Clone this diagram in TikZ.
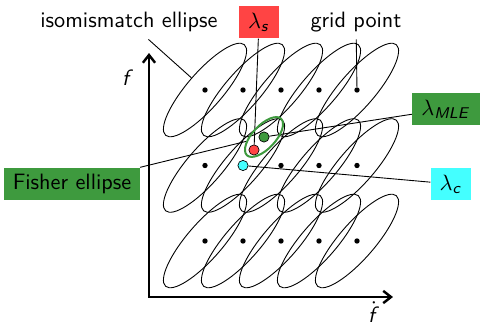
\documentclass[tikz,border=0pt]{standalone}
\usepackage{xcolor}
\usepackage{tikz}
\usetikzlibrary{
  arrows.meta, positioning, shapes.geometric, backgrounds
}
\usepackage{amsmath}
\DeclareMathAlphabet{\mathsfit}{OT1}{cmss}{m}{sl}
\definecolor{lblred}{HTML}{FF4444}
\definecolor{lblgreen}{HTML}{3E9A3E}
\definecolor{lblcyan}{HTML}{44FFFF}

\begin{document}
\begin{tikzpicture}[
  x=0.45pt, y=-0.45pt,
  every node/.style={font=\sffamily},
  isoell/.style={draw, ellipse, rotate=49, minimum width=54pt,
                 minimum height=16pt, inner sep=0pt},
  fishell/.style={draw=lblgreen, line width=0.9pt, ellipse, rotate=47,
                  minimum width=22.5pt, minimum height=10.4pt, inner sep=0pt},
  gdot/.style={circle, fill=black, inner sep=0pt, minimum size=2.4pt},
  pdot/.style={circle, draw=black, line width=0.3pt, inner sep=0pt,
               minimum size=4.6pt},
  lbox/.style={inner xsep=4pt, inner ysep=0pt, minimum height=14.6pt},
  txt/.style={inner sep=0pt, minimum height=15.3pt},
  axis/.style={line width=1.1pt, line join=miter,
               {Straight Barb[length=3.5pt,width=5.5pt]}-{Straight Barb[length=3.5pt,width=5.5pt]}},
]
  \useasboundingbox (0,0) rectangle (483,327);

  % axes
  \coordinate (orig) at (149,297);
  \coordinate (ytip) at (149,53);
  \coordinate (xtip) at (393,297);
  \draw[axis] (ytip) -- (orig) -- (xtip);
  \node (fy) at (128,78) {$\mathsfit{f}$};
  \node (fx) at (374,312) {$\dot{\mathsfit{f}}$};

  % isomismatch ellipses and grid points
  \foreach \i in {0,...,4}
    \foreach \j in {0,1,2}
      \node[isoell] (e\i\j) at ({205+38*\i},{90+75.5*\j}) {};
  \foreach \i in {0,...,4}
    \foreach \j in {0,1,2}{
      \ifnum\i\j=11 \else
        \node[gdot] (g\i\j) at (e\i\j) {};
      \fi
    }

  % signal, MLE and closest template
  \node[pdot, fill=lblcyan] (cdot) at (e11) {};
  \node[pdot, fill=lblred] (sdot) at (254,150) {};
  \node[pdot, fill=lblgreen] (mdot) at (264,137) {};
  \node[fishell] (fish) at (mdot) {};

  % labels
  \node[txt] (iso) at (129,22) {isomismatch ellipse};
  \node[lbox, fill=lblred] (ls) at (259,22) {$\lambda_{\mathsfit{s}}$};
  \node[txt] (gp) at (356,22) {grid point};
  \node[lbox, fill=lblgreen] (lm) at (446,109) {$\lambda_{\mathsfit{MLE}}$};
  \node[lbox, fill=lblcyan] (lc) at (451,184) {$\lambda_{\mathsfit{c}}$};
  \node[lbox, fill=lblgreen] (fl) at (72,184) {Fisher ellipse};

  \begin{scope}[on background layer]
    \draw (iso) -- (e00);
    \draw (ls) -- (sdot);
    \draw (gp) -- (g40);
    \draw (lm) -- (mdot);
    \draw (lc) -- (cdot);
    \draw (fl) -- (fish);
  \end{scope}
\end{tikzpicture}
\end{document}
